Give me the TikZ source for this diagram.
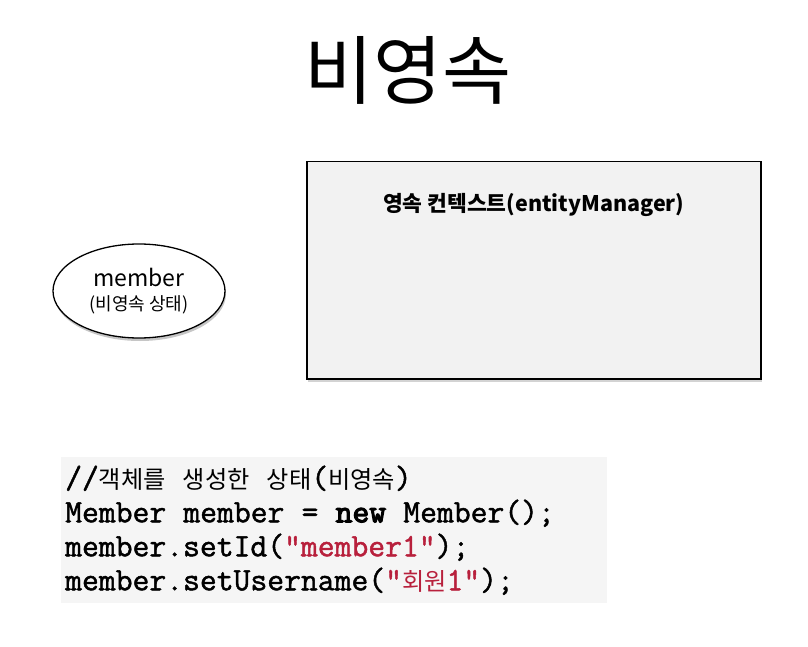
\documentclass[tikz,border=0pt]{standalone}
\usepackage{fontspec}
\setmainfont{Noto Sans CJK KR}
\setmonofont{Latin Modern Mono}[FakeBold=1.4]
\newfontfamily\codecjk{Noto Sans CJK KR}[Scale=0.74]
\usetikzlibrary{shapes.geometric, shadows}
\definecolor{boxgray}{RGB}{242,242,242}
\definecolor{codebg}{RGB}{245,245,245}
\definecolor{strred}{RGB}{184,32,60}
\tikzstyle{state} = [ellipse, draw=black, line width=1.3pt, fill=white, minimum width=172pt, minimum height=94pt, align=center, font=\fontsize{18}{24}\selectfont, drop shadow={shadow xshift=1pt, shadow yshift=-3pt, opacity=0.45}]
\tikzstyle{context} = [rectangle, draw=black, line width=1.5pt, fill=boxgray, minimum width=454pt, minimum height=217pt, drop shadow={shadow xshift=1pt, shadow yshift=-3pt, opacity=0.35}]
\tikzstyle{codeblock} = [rectangle, fill=codebg, anchor=north west, minimum width=546pt, minimum height=146pt, text width=538pt, inner xsep=4pt, align=left, font=\ttfamily\fontsize{32.7}{34}\selectfont]
\newcommand{\strlit}[1]{\textcolor{strred}{#1}}
\newcommand{\kw}[1]{{\addfontfeature{FakeBold=3.5}#1}}
\newcommand{\tsp}{\hspace*{0.525em}}

\begin{document}
\begin{tikzpicture}[x=1pt, y=-1pt]
\useasboundingbox (0,0) rectangle (808,647);
\node (title) at (408,70) {\fontsize{75}{80}\selectfont 비영속};
\node (member) [state] at (139,291) {{\fontsize{23}{26}\selectfont member}\\
(비영속 상태)};
\node (ctx) [context, anchor=north west] at (306,161) {};
\node (ctxlabel) at ([yshift=-44pt]ctx.north) {\bfseries\fontsize{21.5}{24}\selectfont 영속 컨텍스트(entityManager)};
\node (code) [codeblock] at (61,457) {//{\codecjk 객체를}\tsp{\codecjk 생성한}\tsp{\codecjk 상태}({\codecjk 비영속})\\
Member\tsp member\tsp =\tsp \kw{new}\tsp Member();\\
member.setId(\strlit{"member1"});\\
member.setUsername(\strlit{"{\codecjk 회원}1"});};
\end{tikzpicture}
\end{document}
